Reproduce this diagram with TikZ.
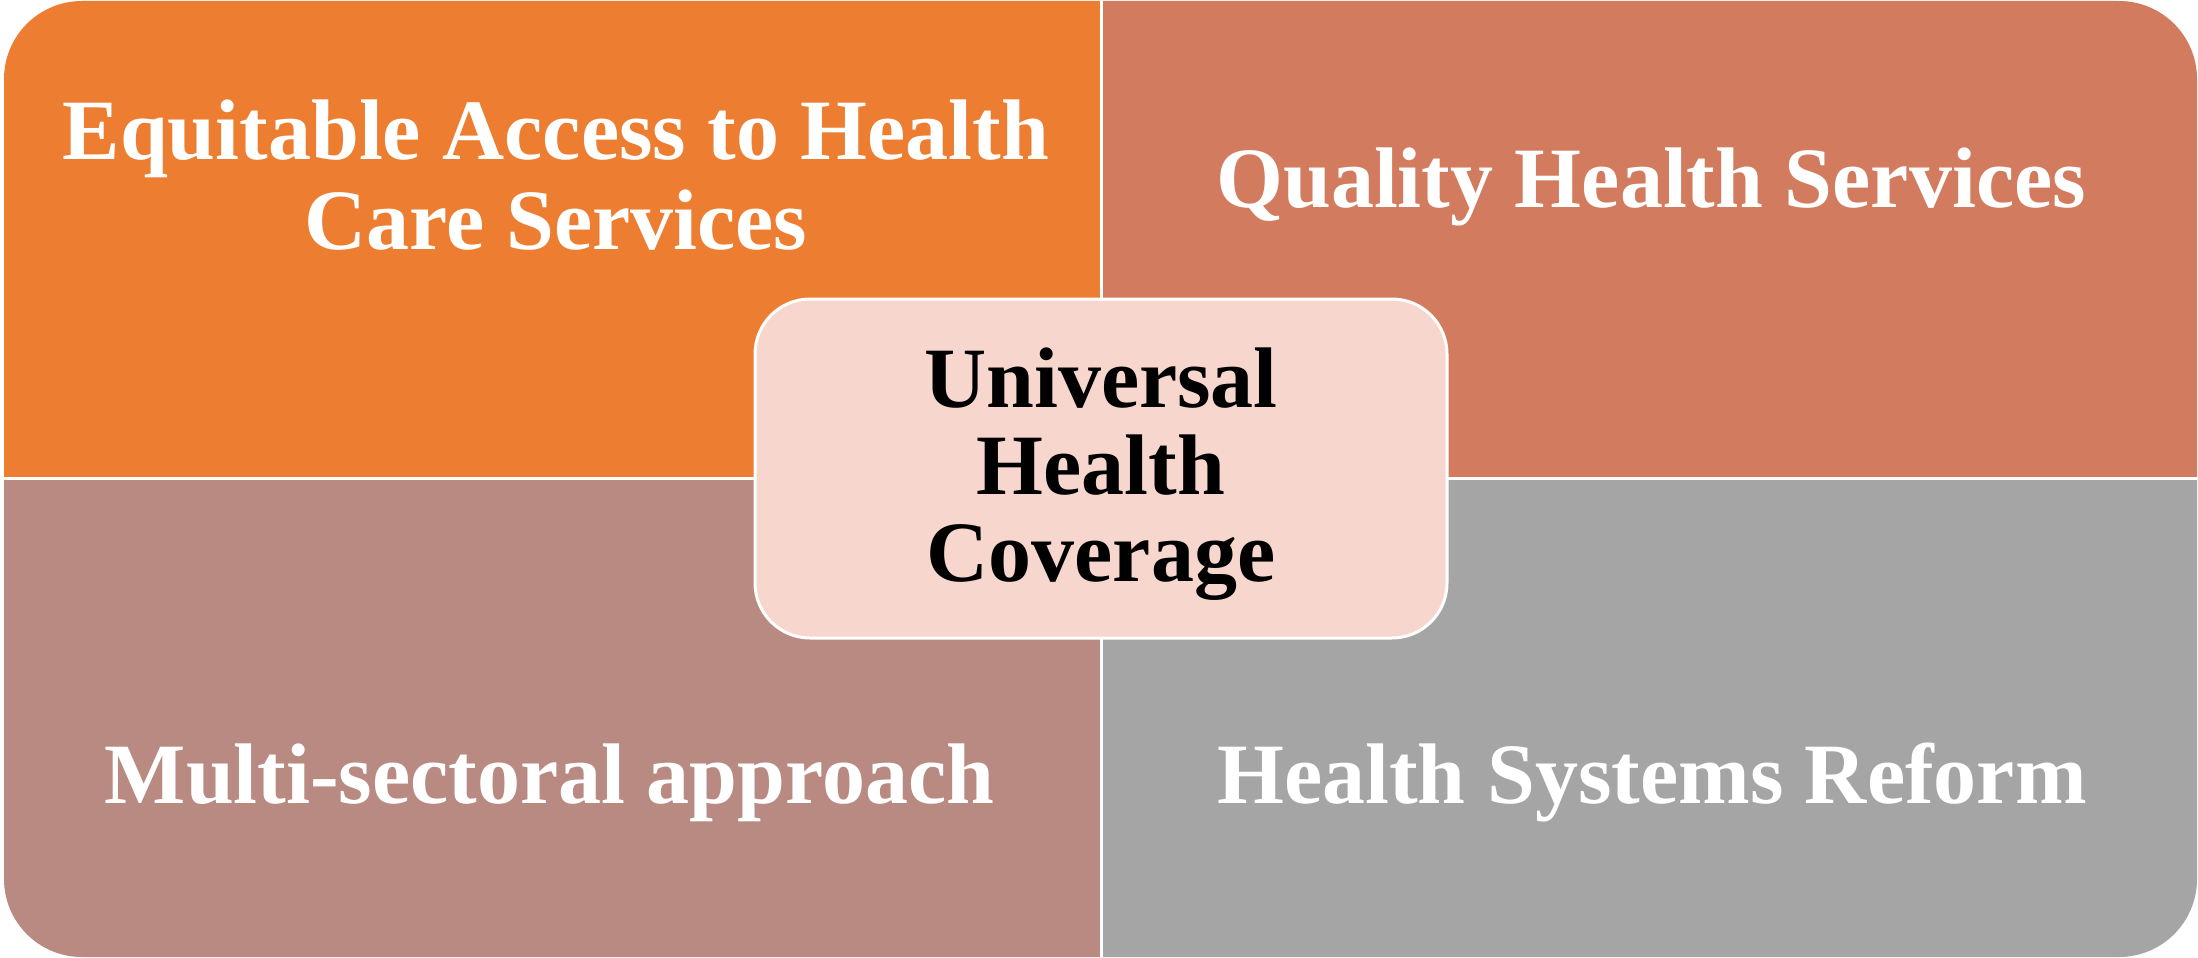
\documentclass[tikz,border=0pt]{standalone}
\usepackage{fontspec}
\setmainfont{Liberation Serif}
\definecolor{cTL}{HTML}{ED7D31}
\definecolor{cTR}{HTML}{D37B5E}
\definecolor{cBL}{HTML}{B88A82}
\definecolor{cBR}{HTML}{A5A5A5}
\definecolor{cCenter}{HTML}{F7D7CD}
\tikzset{
  quadlabel/.style={text=white, font=\fontsize{86}{90}\selectfont\bfseries, align=center, inner sep=0pt},
  centerlabel/.style={text=black, font=\fontsize{86}{87}\selectfont\bfseries, align=center, inner sep=0pt},
  divider/.style={draw=white, line width=3pt},
}
\begin{document}
\begin{tikzpicture}[x=1pt,y=-1pt]
\useasboundingbox (0,0) rectangle (2198,958);
\fill[white] (0,0) rectangle (2198,958);
\begin{scope}
  \clip[rounded corners=78pt] (4,1) rectangle (2197,957);
  \fill[cTL] (0,0) rectangle (1101.5,478);
  \fill[cTR] (1101.5,0) rectangle (2198,478);
  \fill[cBL] (0,478) rectangle (1101.5,958);
  \fill[cBR] (1101.5,478) rectangle (2198,958);
  \draw[divider] (1101.5,0) -- (1101.5,958);
  \draw[divider] (0,478) -- (2198,478);
\end{scope}
\node[quadlabel] (tl) at (556,175) {Equitable Access to Health\\Care Services};
\node[quadlabel, anchor=base] (tr) at (1651,207.5) {Quality Health Services};
\node[quadlabel, anchor=base] (bl) at (549.5,803) {Multi-sectoral approach};
\node[quadlabel, anchor=base] (br) at (1652,803) {Health Systems Reform};
\draw[draw=white, line width=3pt, fill=cCenter, rounded corners=55pt] (755,299) rectangle (1447,638);
\node[centerlabel] (uhc) at (1101,474) {Universal\\Health\\Coverage};
\end{tikzpicture}
\end{document}
